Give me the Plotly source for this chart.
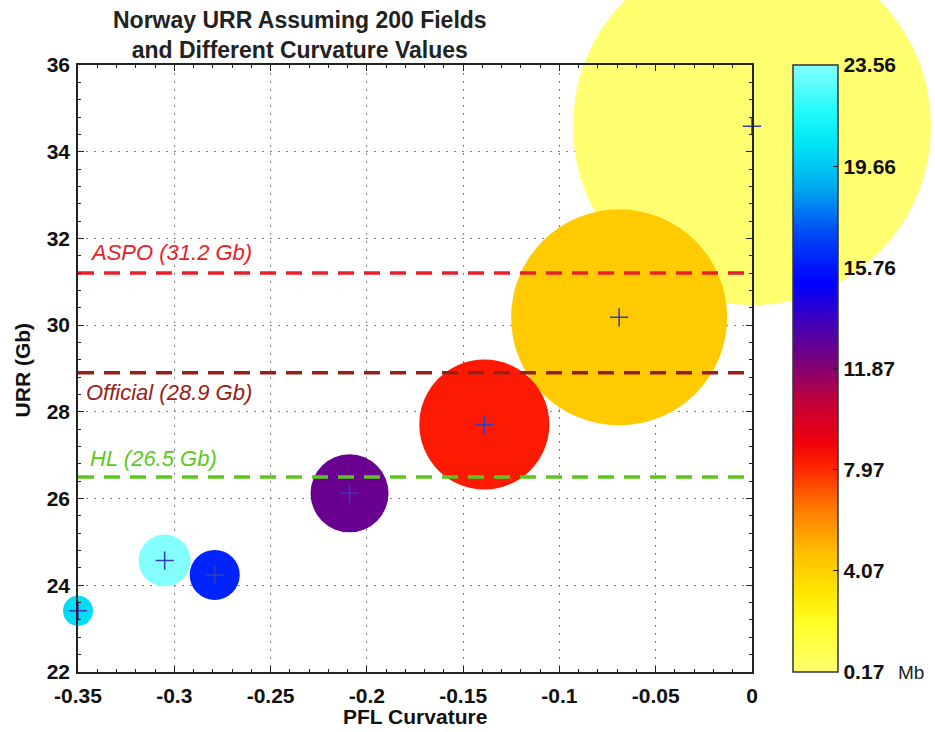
import plotly.graph_objects as go

# PFL curvature scenarios for Norway, 200 fields
curvature = [-0.35, -0.305, -0.279, -0.209, -0.139, -0.069, 0.0]
urr_gb = [23.41, 24.57, 24.24, 26.12, 27.71, 30.18, 34.59]
min_field_mb = [20.3, 23.56, 16.1, 12.6, 8.3, 4.3, 0.17]
bubble_scale = [30, 52, 50, 78, 130, 216, 358]

# Published URR estimates
ref_names = ["ASPO", "Official", "HL"]
ref_values = [31.2, 28.9, 26.5]

x_ticks = [-0.35, -0.3, -0.25, -0.2, -0.15, -0.1, -0.05, 0]
x_tick_labels = ["-0.35", "-0.3", "-0.25", "-0.2", "-0.15", "-0.1", "-0.05", "0"]
y_ticks = [22, 24, 26, 28, 30, 32, 34, 36]
cbar_ticks = [0.17, 4.07, 7.97, 11.87, 15.76, 19.66, 23.56]
cbar_labels = ["0.17", "4.07", "7.97", "11.87", "15.76", "19.66", "23.56"]

FONT = "Liberation Sans"
BOLD = dict(family=FONT, size=21, color="#111", weight="bold")

colorscale = [
    [0.00, "rgb(255,255,112)"],
    [0.08, "rgb(255,255,40)"],
    [0.13, "rgb(255,232,0)"],
    [0.20, "rgb(255,188,0)"],
    [0.27, "rgb(255,120,0)"],
    [0.34, "rgb(255,32,0)"],
    [0.38, "rgb(238,0,12)"],
    [0.45, "rgb(190,0,62)"],
    [0.50, "rgb(132,0,112)"],
    [0.58, "rgb(62,0,190)"],
    [0.64, "rgb(0,0,255)"],
    [0.72, "rgb(0,70,245)"],
    [0.80, "rgb(0,172,240)"],
    [0.87, "rgb(0,228,245)"],
    [0.92, "rgb(30,250,250)"],
    [1.00, "rgb(132,255,255)"],
]

# draw the largest bubbles first so smaller ones stay visible
order = sorted(range(len(curvature)), key=lambda i: -bubble_scale[i])
xs = [curvature[i] for i in order]
ys = [urr_gb[i] for i in order]
cs = [min_field_mb[i] for i in order]
ss = [bubble_scale[i] for i in order]

fig = go.Figure()

fig.add_trace(go.Scatter(
    x=xs, y=ys, mode="markers", cliponaxis=False, showlegend=False,
    marker=dict(
        size=ss, sizemode="diameter", sizeref=1, opacity=1,
        color=cs, cmin=min(cbar_ticks), cmax=max(cbar_ticks),
        colorscale=colorscale, line=dict(width=0),
        showscale=True,
        colorbar=dict(
            x=1.0608, xanchor="left", xpad=0, y=0.5, yanchor="middle",
            len=1, lenmode="fraction", ypad=0, thickness=45,
            outlinecolor="#333", outlinewidth=1.5,
            tickvals=cbar_ticks, ticktext=cbar_labels,
            ticks="inside", ticklen=5, tickcolor="#222",
            tickfont=BOLD,
        ),
    ),
))

ref_colors = ["rgb(232,32,40)", "rgb(150,32,24)", "rgb(92,200,30)"]
label_shift = [21, -20, 18]
label_x = [-0.345, -0.347, -0.345]
for name, val, col, dy, lx in zip(ref_names, ref_values, ref_colors, label_shift, label_x):
    fig.add_trace(go.Scatter(
        x=[-0.35, 0], y=[val, val], mode="lines", showlegend=False,
        line=dict(color=col, width=3.5, dash="16px,10px"),
    ))
    fig.add_annotation(
        x=lx, y=val, xref="x", yref="y", text=f"{name} ({val} Gb)",
        showarrow=False, xanchor="left", yanchor="middle", yshift=dy,
        font=dict(family=FONT, size=22, color=col, style="italic"),
    )

# centre markers
fig.add_trace(go.Scatter(
    x=curvature, y=urr_gb, mode="markers", cliponaxis=False, showlegend=False,
    marker=dict(symbol="cross-thin", size=13,
                line=dict(color="rgb(50,60,190)", width=1.5)),
))

axis_common = dict(
    showline=True, linecolor="#222", linewidth=1.5, mirror="ticks",
    ticks="inside", ticklen=6, tickcolor="#222",
    showgrid=True, gridcolor="#808080", gridwidth=1.2, griddash="2px,6px",
    zeroline=False, tickfont=BOLD,
)

fig.update_xaxes(
    range=[-0.35, 0], tickvals=x_ticks, ticktext=x_tick_labels,
    ticklabelstandoff=4,
    minor=dict(dtick=0.01, ticks="inside", ticklen=3, tickcolor="#222", showgrid=False),
    **axis_common,
)
fig.update_yaxes(
    range=[22, 36], tickvals=y_ticks, ticklabelstandoff=2,
    minor=dict(dtick=0.4, ticks="inside", ticklen=3, tickcolor="#222", showgrid=False),
    **axis_common,
)

fig.add_annotation(x=0.5, y=-0.074, xref="paper", yref="paper", text="PFL Curvature",
                   showarrow=False, xanchor="center", yanchor="middle", font=BOLD)
fig.add_annotation(x=-0.083, y=0.497, xref="paper", yref="paper", text="URR (Gb)",
                   textangle=-90, showarrow=False, xanchor="center", yanchor="middle",
                   font=BOLD)
fig.add_annotation(x=1.213, y=0.0, xref="paper", yref="paper", text="Mb",
                   showarrow=False, xanchor="left", yanchor="middle",
                   font=dict(family=FONT, size=19, color="#222"))
fig.add_annotation(
    x=(300 - 78) / 674, y=(672 - 5) / 607, xref="paper", yref="paper",
    text="Norway URR Assuming 200 Fields<br>and Different Curvature Values",
    showarrow=False, xanchor="center", yanchor="top", align="center",
    font=dict(family=FONT, size=23, color="#222", weight="bold"),
)

fig.update_layout(
    width=935, height=732,
    margin=dict(l=78, r=183, t=65, b=60),
    paper_bgcolor="white", plot_bgcolor="white",
)

fig.write_html("out.html")
